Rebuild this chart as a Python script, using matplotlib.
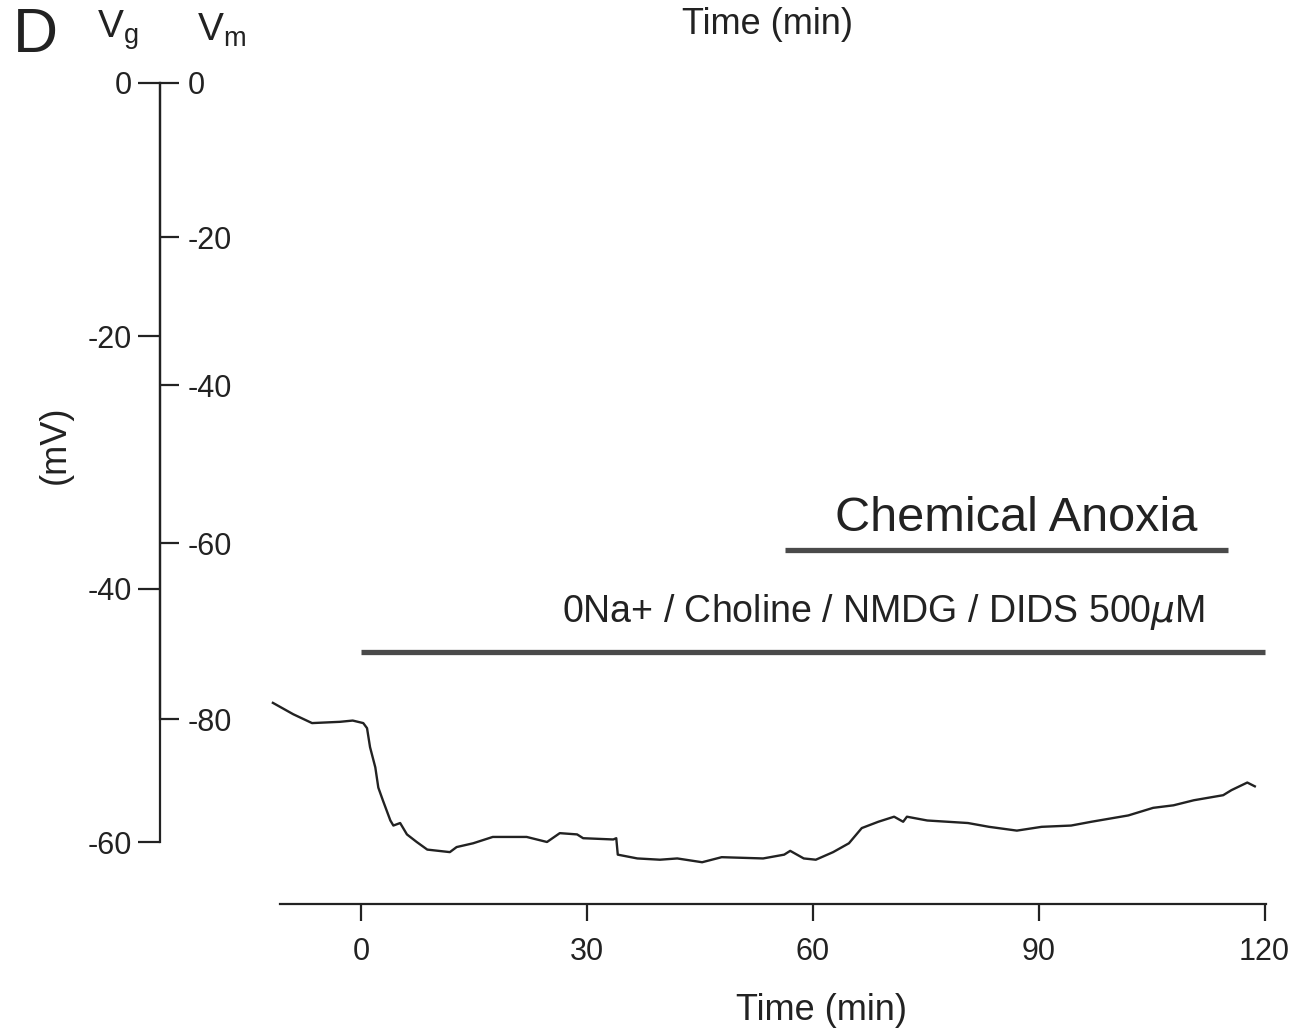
import matplotlib
matplotlib.use("Agg")
import matplotlib.pyplot as plt

plt.rcParams['font.family'] = ['Liberation Sans', 'DejaVu Sans']

# ---- data (time in min, Vg in mV) ----
time_min = [-11.7, -9.0, -6.5, -2.8, -1.1, 0.3, 0.8, 1.2, 1.9, 2.3, 2.9, 3.9, 4.3, 5.2,
            6.1, 7.4, 8.8, 11.8, 12.7, 14.9, 17.5, 22.0, 24.7, 26.4, 28.7, 29.5, 33.5,
            33.9, 34.1, 36.7, 39.7, 42.0, 45.3, 47.9, 53.4, 56.2, 57.0, 58.8, 60.4,
            62.7, 64.8, 66.5, 68.7, 70.8, 72.0, 72.5, 75.2, 80.6, 83.4, 87.1, 90.4,
            94.3, 97.0, 101.9, 105.2, 107.9, 110.6, 114.5, 115.6, 117.7, 118.7]
vg_mv = [-49.0, -49.9, -50.6, -50.5, -50.4, -50.6, -51.0, -52.5, -54.1, -55.7, -56.7,
         -58.3, -58.7, -58.5, -59.4, -60.0, -60.6, -60.8, -60.4, -60.1, -59.6, -59.6,
         -60.0, -59.3, -59.4, -59.7, -59.8, -59.7, -61.0, -61.3, -61.4, -61.3, -61.6,
         -61.2, -61.3, -61.0, -60.7, -61.3, -61.4, -60.8, -60.1, -58.9, -58.4, -58.0,
         -58.4, -58.0, -58.3, -58.5, -58.8, -59.1, -58.8, -58.7, -58.4, -57.9, -57.3,
         -57.1, -56.7, -56.3, -55.9, -55.3, -55.6]

vg_ticks = [0, -20, -40, -60]
vm_tick_labels = ['0', '-20', '-40', '-60', '-80']
vm_tick_pos = [0, -12.2, -23.9, -36.4, -50.3]   # Vm ticks expressed on the Vg scale
time_ticks = [0, 30, 60, 90, 120]

bar_labels = ['0Na+ / Choline / NMDG / DIDS 500$\\mu$M', 'Chemical Anoxia']
bar_start = [0, 56.3]
bar_end = [120, 115.1]
bar_level = [-45.0, -36.9]

# ---- layout ----
W, H = 1291, 1032
fig = plt.figure(figsize=(W / 100, H / 100), dpi=100)
ax = fig.add_axes([0, 0, 1, 1])
ax.patch.set_alpha(0)

# mapping: x_px = 361 + t*7.53 ; y_px = 83 - Vg*12.65
ax.set_xlim((0 - 361) / 7.53, (W - 361) / 7.53)
ax.set_ylim(-(H - 83) / 12.65, 83 / 12.65)

ink = '#222222'
axis_x = (160 - 361) / 7.53
axis_y = -(904 - 83) / 12.65

ax.spines['top'].set_visible(False)
ax.spines['right'].set_visible(False)
ax.spines['left'].set_position(('data', axis_x))
ax.spines['left'].set_bounds(-60, 0)
ax.spines['bottom'].set_position(('data', axis_y))
ax.spines['bottom'].set_bounds((280 - 361) / 7.53, 120.2)
for s in ['left', 'bottom']:
    ax.spines[s].set_linewidth(1.6)
    ax.spines[s].set_color(ink)

ax.set_yticks(vg_ticks)
ax.set_yticklabels([str(v) for v in vg_ticks])
ax.set_xticks(time_ticks)
ax.set_xticklabels([str(v) for v in time_ticks])
ax.tick_params(axis='y', direction='out', length=16, width=1.6, pad=4,
               labelsize=22, colors=ink)
ax.tick_params(axis='x', direction='out', length=12, width=1.6, pad=12,
               labelsize=22, colors=ink)

# Vm ticks on the right side of the same vertical line
ax2 = ax.twinx()
ax2.set_position([0, 0, 1, 1])
ax2.set_ylim(ax.get_ylim())
for s in ['top', 'bottom', 'left']:
    ax2.spines[s].set_visible(False)
ax2.spines['right'].set_position(('data', axis_x))
ax2.spines['right'].set_bounds(-50.3, 0)
ax2.spines['right'].set_linewidth(1.6)
ax2.spines['right'].set_color(ink)
ax2.set_yticks(vm_tick_pos)
ax2.set_yticklabels(vm_tick_labels)
ax2.tick_params(axis='y', direction='out', length=14, width=1.6, pad=6,
                labelsize=22, colors=ink)

# trace
ax.plot(time_min, vg_mv, color=ink, lw=1.7)

# solution bars
ax.hlines(bar_level, bar_start, bar_end, colors='#4a4a4a', lw=3.8)
ax.text(112.1, -41.8, bar_labels[0], ha='right', va='center', fontsize=27, color=ink)
ax.text(87.0, -34.4, bar_labels[1], ha='center', va='center', fontsize=35, color=ink)

# texts
fig.text(35 / W, 1 - 36 / H, 'D', fontsize=45, ha='center', va='center', color=ink)
fig.text(118 / W, 1 - 30 / H, 'V$_\\mathregular{g}$', fontsize=28, ha='center',
         va='center', color=ink)
fig.text(222 / W, 1 - 30 / H, 'V$_\\mathregular{m}$', fontsize=28, ha='center',
         va='center', color=ink)
fig.text(768 / W, 1 - 25 / H, 'Time (min)', fontsize=26, ha='center', va='center',
         color=ink)
fig.text(822 / W, 1 - 1010 / H, 'Time (min)', fontsize=26, ha='center', va='center',
         color=ink)
fig.text(55 / W, 1 - 445 / H, '(mV)', fontsize=26, ha='center', va='center',
         rotation=90, color=ink)

fig.savefig('out.png', dpi=100, facecolor='white')
